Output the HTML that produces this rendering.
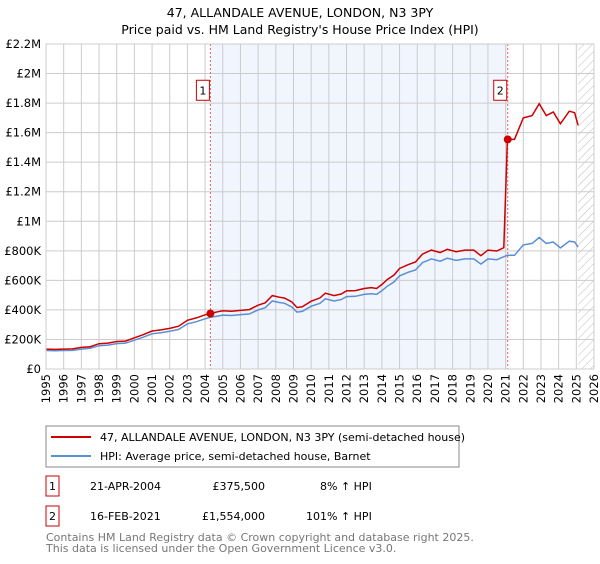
<!DOCTYPE html>
<html><head><meta charset="utf-8"><style>
body{margin:0;background:#fff;font-family:"DejaVu Sans","Liberation Sans",sans-serif;}
svg text{font-family:"DejaVu Sans","Liberation Sans",sans-serif;}
</style></head><body>
<svg id="chart" width="600" height="560" viewBox="0 0 600 560" xmlns="http://www.w3.org/2000/svg">
<defs><pattern id="hatch" width="6" height="6" patternUnits="userSpaceOnUse" patternTransform="rotate(45)"><line x1="0" y1="0" x2="0" y2="6" stroke="#bbb" stroke-width="1"/></pattern></defs>
<text x="300" y="17" text-anchor="middle" font-size="12.5" fill="#000">47, ALLANDALE AVENUE, LONDON, N3 3PY</text>
<text x="300" y="34" text-anchor="middle" font-size="12.5" fill="#000">Price paid vs. HM Land Registry's House Price Index (HPI)</text>
<g id="plot"></g>
<g>
<rect x="46" y="426" width="413" height="41" fill="#fff" stroke="#888"/>
<line x1="51" y1="437" x2="91" y2="437" stroke="#cc0000" stroke-width="2"/>
<text x="100" y="441" font-size="11">47, ALLANDALE AVENUE, LONDON, N3 3PY (semi-detached house)</text>
<line x1="51" y1="456" x2="91" y2="456" stroke="#5b8fd4" stroke-width="2"/>
<text x="100" y="460" font-size="11">HPI: Average price, semi-detached house, Barnet</text>
</g>
<g font-size="11">
<rect x="46" y="476" width="13" height="20" fill="#fff" stroke="#cc0000"/>
<text x="52.5" y="490" text-anchor="middle">1</text>
<text x="90" y="490">21-APR-2004</text>
<text x="265" y="490" text-anchor="end">£375,500</text>
<text x="320" y="490">8% ↑ HPI</text>
<rect x="46" y="506" width="13" height="20" fill="#fff" stroke="#cc0000"/>
<text x="52.5" y="520" text-anchor="middle">2</text>
<text x="90" y="520">16-FEB-2021</text>
<text x="265" y="520" text-anchor="end">£1,554,000</text>
<text x="306" y="520">101% ↑ HPI</text>
</g>
<text x="46" y="541" font-size="11" fill="#777">Contains HM Land Registry data © Crown copyright and database right 2025.</text>
<text x="46" y="552" font-size="11" fill="#777">This data is licensed under the Open Government Licence v3.0.</text>
</svg>
<script>
const hpiDates=[1995,1995.5,1996,1996.5,1997,1997.5,1998,1998.5,1999,1999.5,2000,2000.5,2001,2001.5,2002,2002.5,2003,2003.5,2004,2004.3,2004.7,2005,2005.5,2006,2006.5,2007,2007.4,2007.8,2008.2,2008.5,2008.9,2009.2,2009.5,2010,2010.5,2010.8,2011.3,2011.7,2012,2012.5,2013,2013.4,2013.7,2014,2014.3,2014.7,2015,2015.5,2015.9,2016.3,2016.8,2017.3,2017.7,2018.2,2018.7,2019.2,2019.6,2020,2020.5,2020.9,2021.1,2021.5,2022,2022.5,2022.9,2023.3,2023.7,2024.1,2024.6,2024.9,2025.1];
const hpiValues=[125,123,125,126,135,140,158,162,172,175,195,215,238,245,255,268,305,320,340,350,358,365,362,368,372,400,415,460,450,445,420,385,390,425,445,475,460,470,490,492,505,510,505,530,560,590,630,655,670,720,745,730,750,735,745,745,710,745,740,760,770,770,840,850,890,850,860,820,865,860,825];
const priceDates=hpiDates;
const priceValues=[135,133,135,136,146,151,171,175,186,189,211,232,257,265,275,290,330,346,367,375.5,387,394,391,397,402,432,448,497,486,480,454,416,421,459,481,513,497,508,529,531,545,551,545,572,605,637,680,707,724,778,805,788,810,794,805,805,767,805,799,821,1554,1554,1700,1715,1796,1715,1740,1660,1745,1735,1650];
const yTicks=[0,200,400,600,800,1000,1200,1400,1600,1800,2000,2200];
const yTickLabels=["£0","£200K","£400K","£600K","£800K","£1M","£1.2M","£1.4M","£1.6M","£1.8M","£2M","£2.2M"];
const xYears=[1995,1996,1997,1998,1999,2000,2001,2002,2003,2004,2005,2006,2007,2008,2009,2010,2011,2012,2013,2014,2015,2016,2017,2018,2019,2020,2021,2022,2023,2024,2025,2026];
const sales=[{n:"1",t:2004.3,v:375.5},{n:"2",t:2021.12,v:1554}];

const L=46,R=594,T=44,B=369;
const xs=t=>L+(t-1995)/(2026-1995)*(R-L);
const ys=v=>B-v/2200*(B-T);
const NS="http://www.w3.org/2000/svg";
const g=document.getElementById('plot');
function mk(tag,attrs,parent){const e=document.createElementNS(NS,tag);for(const k in attrs)e.setAttribute(k,attrs[k]);(parent||g).appendChild(e);return e;}

let shade=mk('rect',{x:xs(sales[0].t),y:T,width:xs(sales[1].t)-xs(sales[0].t),height:B-T,fill:'#eef2fc',opacity:0.8});


let hatch=mk('rect',{x:xs(2025.1),y:T,width:R-xs(2025.1),height:B-T,fill:'url(#hatch)'});



yTicks.forEach((v,i)=>{
  let l=mk('line',{x1:L,x2:R,y1:ys(v),y2:ys(v),stroke:'#ccc','stroke-width':1});
  
  
  let t=mk('text',{x:L-5,y:ys(v)+4,'text-anchor':'end','font-size':11.5,fill:'#000'});
  t.textContent=yTickLabels[i];
  
  
});
xYears.forEach(yr=>{
  let l=mk('line',{x1:xs(yr),x2:xs(yr),y1:T,y2:B,stroke:'#ccc','stroke-width':1});
  
  
  let t=mk('text',{x:0,y:0,'text-anchor':'end','font-size':11.5,fill:'#000',transform:`translate(${xs(yr)+4},${B+5}) rotate(-90)`});
  t.textContent=yr;
  
  
});
sales.forEach(s=>{
  let l=mk('line',{x1:xs(s.t),x2:xs(s.t),y1:T,y2:B,stroke:'#e06060','stroke-width':1,'stroke-dasharray':'2,2'});
  
  
});
function path(d,v){return d.map((t,i)=>(i?'L':'M')+xs(t).toFixed(1)+','+ys(v[i]).toFixed(1)).join('');}
let hp=mk('path',{d:path(hpiDates,hpiValues),fill:'none',stroke:'#5b8fd4','stroke-width':1.5});


let pp=mk('path',{d:path(priceDates,priceValues),fill:'none',stroke:'#cc0000','stroke-width':1.5});


sales.forEach(s=>{
  let c=mk('circle',{cx:xs(s.t),cy:ys(s.v),r:4,fill:'#cc0000'});
  
  
  let b=mk('rect',{x:xs(s.t)-14,y:ys(1880)-11,width:13,height:20,fill:'#fff',stroke:'#cc0000'});
  
  
  let t=mk('text',{x:xs(s.t)-7.5,y:ys(1880)+3,'text-anchor':'middle','font-size':11});
  t.textContent=s.n;
  
  
});
let ax=mk('rect',{x:L,y:T,width:R-L,height:B-T,fill:'none',stroke:'#ccc'});


</script>
</body></html>
